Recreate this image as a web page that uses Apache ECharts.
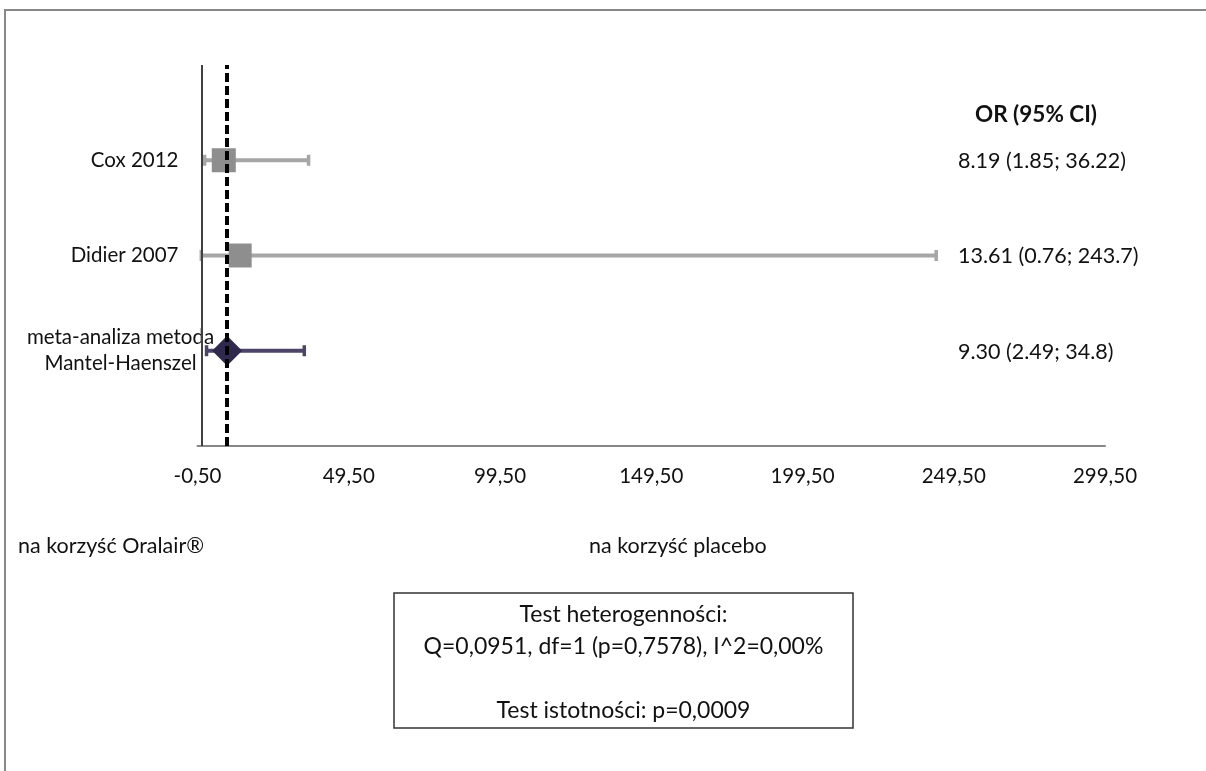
<!DOCTYPE html>
<html>
<head>
<meta charset="utf-8">
<script src="https://cdn.jsdelivr.net/npm/echarts@6/dist/echarts.min.js"></script>
<style>
  html, body { margin: 0; padding: 0; background: #fff; }
  #chart { width: 1206px; height: 771px; }
</style>
</head>
<body>
<div id="chart"></div>
<script>
// Forest plot: odds ratios with 95% CI, Oralair vs placebo
const studies = ['Cox 2012', 'Didier 2007', 'meta-analiza metoda\nMantel-Haenszel'];
const oddsRatio = [8.19, 13.61, 9.30];
const ciLower = [1.85, 0.76, 2.49];
const ciUpper = [36.22, 243.7, 34.8];
const pooledIndex = 2;            // last row is the pooled estimate
const noEffect = 1;               // OR = 1
const xTicks = { min: -0.5, max: 299.5, step: 50 };
const columnHeader = 'OR (95% CI)';
const sideLabels = ['na korzyść Oralair®', 'na korzyść placebo'];
const testLines = [
  'Test heterogenności:',
  'Q=0,0951, df=1 (p=0,7578), I^2=0,00%',
  '',
  'Test istotności: p=0,0009'
];

const FONT = 'Lato, "Open Sans", sans-serif';
const TEXT = '#111111';
const nRows = studies.length;
// top-to-bottom row order: first study at the top
const rowOf = i => nRows - i;

const ciText = i => oddsRatio[i].toFixed(2) + ' (' + String(ciLower[i]) + '; ' + String(ciUpper[i]) + ')';

const ciData = studies.map((s, i) => [ciLower[i], ciUpper[i], rowOf(i), i]);
const studyPoints = studies.map((s, i) => i).filter(i => i !== pooledIndex)
  .map(i => ({ value: [oddsRatio[i], rowOf(i)], symbolSize: i === 0 ? [24, 24] : [23, 24] }));
const pooledPoint = [{ value: [oddsRatio[pooledIndex], rowOf(pooledIndex)] }];

const chart = echarts.init(document.getElementById('chart'), null, { renderer: 'canvas' });

const rightLabelAt = v => {
  if (v === nRows + 0.5) return '{h|' + columnHeader + '}';
  for (let i = 0; i < nRows; i++) if (v === rowOf(i)) return '{v|' + ciText(i) + '}';
  return '';
};

chart.setOption({
  animation: false,
  backgroundColor: '#ffffff',
  grid: { left: 197.5, right: 101, top: 65, bottom: 325, containLabel: false },
  xAxis: {
    type: 'value',
    min: xTicks.min, max: xTicks.max, interval: xTicks.step,
    axisLine: { show: true, lineStyle: { color: '#888888', width: 2 } },
    axisTick: { show: false },
    splitLine: { show: false },
    axisLabel: {
      margin: 20,
      color: TEXT,
      fontFamily: FONT,
      fontSize: 20.5,
      formatter: v => v.toFixed(2).replace('.', ',')
    }
  },
  yAxis: [
    {
      type: 'value', min: 0, max: nRows + 1, interval: 1, position: 'left',
      axisLine: { show: false }, axisTick: { show: false }, splitLine: { show: false },
      axisLabel: {
        margin: 19, color: TEXT, fontFamily: FONT, fontSize: 20.5,
        formatter: v => {
          const i = studies.findIndex((s, k) => rowOf(k) === v);
          return i >= 0 && i !== pooledIndex ? studies[i] : '';
        }
      }
    },
    {
      type: 'value', min: 0, max: nRows + 1, interval: 1, position: 'left',
      axisLine: { show: false }, axisTick: { show: false }, splitLine: { show: false },
      axisLabel: {
        margin: 77, align: 'center', color: TEXT, fontFamily: FONT, fontSize: 20.5,
        lineHeight: 26, padding: [16, 0, 0, 0],
        formatter: v => v === rowOf(pooledIndex) ? studies[pooledIndex] : ''
      }
    },
    {
      type: 'value', min: 0, max: nRows + 1, interval: 0.5, position: 'right',
      axisLine: { show: false }, axisTick: { show: false }, splitLine: { show: false },
      axisLabel: {
        inside: true, margin: 147, align: 'left',
        formatter: rightLabelAt,
        rich: {
          h: { fontFamily: FONT, fontSize: 22.5, fontWeight: 'bold', color: TEXT, padding: [5, 0, 0, 17] },
          v: { fontFamily: FONT, fontSize: 21.5, color: TEXT, padding: [2, 0, 0, 0] }
        }
      }
    }
  ],
  series: [
    {
      // confidence intervals with end caps
      type: 'custom',
      name: 'CI',
      yAxisIndex: 0,
      data: ciData,
      encode: { x: [0, 1], y: 2 },
      z: 2,
      renderItem: (params, api) => {
        const idx = api.value(3);
        const color = idx === pooledIndex ? '#4d4568' : '#a6a6a6';
        const lo = api.coord([api.value(0), api.value(2)]);
        const hi = api.coord([api.value(1), api.value(2)]);
        const cap = 5.5;
        const st = { stroke: color, lineWidth: 4 };
        const capSt = { stroke: color, lineWidth: 3.5 };
        return {
          type: 'group',
          children: [
            { type: 'line', shape: { x1: lo[0], y1: lo[1], x2: hi[0], y2: hi[1] }, style: st },
            { type: 'line', shape: { x1: lo[0], y1: lo[1] - cap, x2: lo[0], y2: lo[1] + cap }, style: capSt },
            { type: 'line', shape: { x1: hi[0], y1: hi[1] - cap, x2: hi[0], y2: hi[1] + cap }, style: capSt }
          ]
        };
      },
      markLine: {
        silent: true, symbol: 'none', label: { show: false },
        data: [{ xAxis: noEffect, lineStyle: { color: '#404040', width: 2, type: 'solid' } }]
      }
    },
    {
      type: 'scatter',
      name: 'Badania',
      yAxisIndex: 0,
      symbol: 'rect',
      itemStyle: { color: '#8e8e8e', opacity: 1 },
      data: studyPoints,
      z: 3
    },
    {
      type: 'scatter',
      name: 'Meta-analiza',
      yAxisIndex: 0,
      symbol: 'diamond',
      symbolSize: [30, 30],
      itemStyle: { color: '#2f2a4d', opacity: 1 },
      data: pooledPoint,
      z: 3
    },
    {
      // pooled estimate reference line, drawn on top
      type: 'line',
      name: 'pooled',
      yAxisIndex: 0,
      data: [],
      z: 6,
      markLine: {
        silent: true, symbol: 'none', label: { show: false },
        data: [{ xAxis: oddsRatio[pooledIndex],
          lineStyle: { color: '#000', width: 4, type: [9, 4] } }]
      }
    }
  ],
  graphic: [
    {
      type: 'polyline', silent: true,
      shape: { points: [[5, 800], [5, 10], [1220, 10]] },
      style: { stroke: '#888888', lineWidth: 2, fill: null }
    },
    {
      type: 'text', left: 18, top: 535,
      style: { text: sideLabels[0], fontFamily: FONT, fontSize: 21.5, fill: TEXT }
    },
    {
      type: 'text', left: 589, top: 535,
      style: { text: sideLabels[1], fontFamily: FONT, fontSize: 21.5, fill: TEXT }
    },
    {
      type: 'rect', silent: true,
      shape: { x: 394, y: 593, width: 459, height: 135 },
      style: { stroke: '#333', lineWidth: 1.5, fill: '#fff' }
    },
    {
      type: 'text', x: 623.5, y: 599,
      style: {
        text: testLines.join('\n'), fontFamily: FONT, fontSize: 23, lineHeight: 32,
        align: 'center', verticalAlign: 'top', fill: TEXT
      }
    }
  ]
});
</script>
</body>
</html>
